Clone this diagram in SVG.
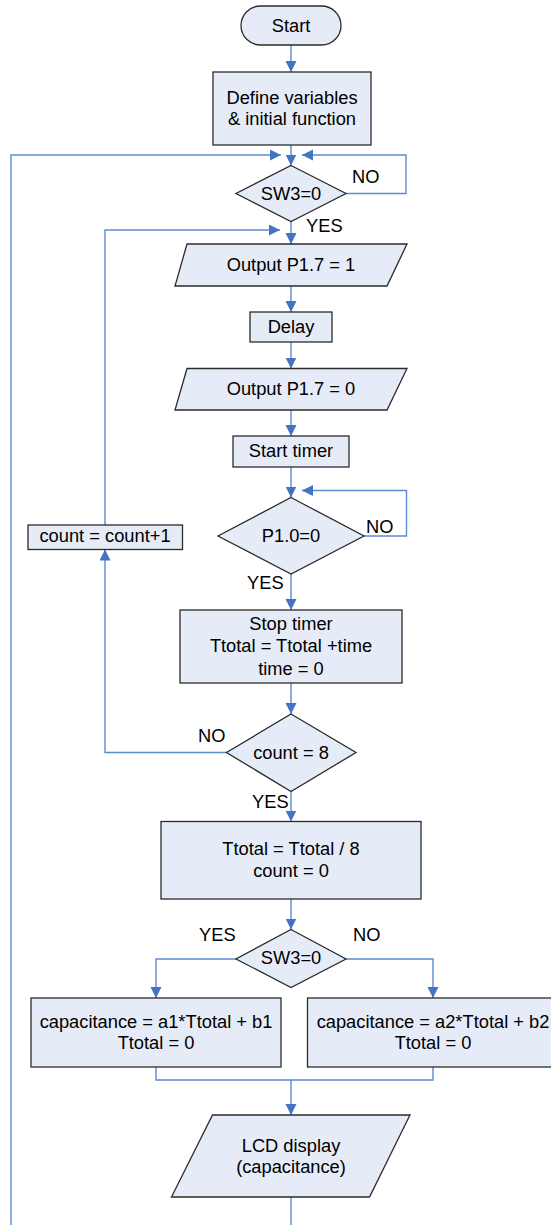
<svg xmlns="http://www.w3.org/2000/svg" width="551" height="1225" viewBox="0 0 551 1225">
  <style>
    .shape { fill: #E6ECF7; stroke: #2b2b2b; stroke-width: 1.3; }
    .conn { fill: none; stroke: #5B8BD3; stroke-width: 1.4; }
    text { font-family: "Liberation Sans", Arial, sans-serif; font-size: 18.3px; fill: #000; text-anchor: middle; }
    .lbl { text-anchor: start; }
  </style>
  <defs>
    <marker id="arrow" markerUnits="userSpaceOnUse" markerWidth="12" markerHeight="12" refX="11" refY="5.5" orient="auto">
      <path d="M0,0 L11,5.5 L0,11 z" fill="#4472C4"/>
    </marker>
  </defs>

  <rect width="551" height="1225" fill="#fff"/>

  <!-- connectors -->
  <g id="connectors">
    <path class="conn" d="M291,45 V72" marker-end="url(#arrow)"/>
    <path class="conn" d="M291,145 V165.5" marker-end="url(#arrow)"/>
    <path class="conn" d="M11,1225 V155 H281" marker-end="url(#arrow)"/>
    <path class="conn" d="M346,193.5 H406 V155 H302" marker-end="url(#arrow)"/>
    <path class="conn" d="M291,221.5 V244" marker-end="url(#arrow)"/>
    <path class="conn" d="M105,525 V230 H280" marker-end="url(#arrow)"/>
    <path class="conn" d="M291,286 V312" marker-end="url(#arrow)"/>
    <path class="conn" d="M291,342 V368.5" marker-end="url(#arrow)"/>
    <path class="conn" d="M291,410 V436" marker-end="url(#arrow)"/>
    <path class="conn" d="M291,467 V497.5" marker-end="url(#arrow)"/>
    <path class="conn" d="M364,536 H406.5 V490.5 H302" marker-end="url(#arrow)"/>
    <path class="conn" d="M291,574 V610" marker-end="url(#arrow)"/>
    <path class="conn" d="M291,683 V714" marker-end="url(#arrow)"/>
    <path class="conn" d="M227,752.5 H105 V549.5" marker-end="url(#arrow)"/>
    <path class="conn" d="M291,791.5 V821.5" marker-end="url(#arrow)"/>
    <path class="conn" d="M291,899 V929.5" marker-end="url(#arrow)"/>
    <path class="conn" d="M236,959 H156 V998" marker-end="url(#arrow)"/>
    <path class="conn" d="M346,959 H433 V998" marker-end="url(#arrow)"/>
    <path class="conn" d="M156,1067 V1080 H433 V1067"/>
    <path class="conn" d="M291,1080 V1115" marker-end="url(#arrow)"/>
    <path class="conn" d="M291,1197 V1225"/>
  </g>

  <!-- branch labels -->
  <g id="labels">
    <text class="lbl" x="352" y="182.5">NO</text>
    <text class="lbl" x="306" y="231.5">YES</text>
    <text class="lbl" x="366" y="533">NO</text>
    <text class="lbl" x="247" y="589">YES</text>
    <text class="lbl" x="198" y="742">NO</text>
    <text class="lbl" x="252" y="808">YES</text>
    <text class="lbl" x="199" y="940.5">YES</text>
    <text class="lbl" x="353" y="940.5">NO</text>
  </g>

  <g id="start">
    <rect class="shape" x="241" y="6" width="100" height="39" rx="19.5"/>
    <text x="291" y="31.5">Start</text>
  </g>

  <g id="define">
    <rect class="shape" x="213" y="72" width="158" height="73"/>
    <text x="292" y="103.5">Define variables</text>
    <text x="292" y="124.5">&amp; initial function</text>
  </g>

  <g id="sw3-wait">
    <polygon class="shape" points="291,165.5 346,193.5 291,221.5 236,193.5"/>
    <text x="291" y="199.5">SW3=0</text>
  </g>

  <g id="output-high">
    <polygon class="shape" points="187,244 407,244 387,286 175,286"/>
    <text x="291" y="271">Output P1.7 = 1</text>
  </g>

  <g id="delay">
    <rect class="shape" x="250" y="312" width="82" height="30"/>
    <text x="291" y="332.5">Delay</text>
  </g>

  <g id="output-low">
    <polygon class="shape" points="187,368.5 407,368.5 387,410 175,410"/>
    <text x="291" y="395">Output P1.7 = 0</text>
  </g>

  <g id="start-timer">
    <rect class="shape" x="233" y="436" width="116" height="31"/>
    <text x="291" y="457">Start timer</text>
  </g>

  <g id="p10-check">
    <polygon class="shape" points="291,497.5 364,536 291,574 218,536"/>
    <text x="291" y="541.5">P1.0=0</text>
  </g>

  <g id="count-inc">
    <rect class="shape" x="28" y="525" width="154.5" height="24.5"/>
    <text x="105" y="541.5">count = count+1</text>
  </g>

  <g id="stop-timer">
    <rect class="shape" x="180" y="610" width="222" height="73"/>
    <text x="291" y="630">Stop timer</text>
    <text x="291" y="652">Ttotal = Ttotal +time</text>
    <text x="291" y="675">time = 0</text>
  </g>

  <g id="count-check">
    <polygon class="shape" points="291,714 356,752.5 291,791.5 226.5,752.5"/>
    <text x="291" y="759">count = 8</text>
  </g>

  <g id="average">
    <rect class="shape" x="161" y="821.5" width="260" height="77.5"/>
    <text x="291" y="854.5">Ttotal = Ttotal / 8</text>
    <text x="291" y="877">count = 0</text>
  </g>

  <g id="sw3-range">
    <polygon class="shape" points="291,929.5 346,959 291,987.5 236,959"/>
    <text x="291" y="964">SW3=0</text>
  </g>

  <g id="calc-range1">
    <rect class="shape" x="31" y="998" width="250" height="69"/>
    <text x="156" y="1027.5">capacitance = a1*Ttotal + b1</text>
    <text x="156" y="1049">Ttotal = 0</text>
  </g>

  <g id="calc-range2">
    <rect class="shape" x="307.5" y="998" width="252" height="69"/>
    <text x="433" y="1027.5">capacitance = a2*Ttotal + b2</text>
    <text x="433" y="1049">Ttotal = 0</text>
  </g>

  <g id="lcd">
    <polygon class="shape" points="212.5,1115 410,1115 369.5,1197 171.5,1197"/>
    <text x="291" y="1151.5">LCD display</text>
    <text x="291" y="1172.5">(capacitance)</text>
  </g>
</svg>
